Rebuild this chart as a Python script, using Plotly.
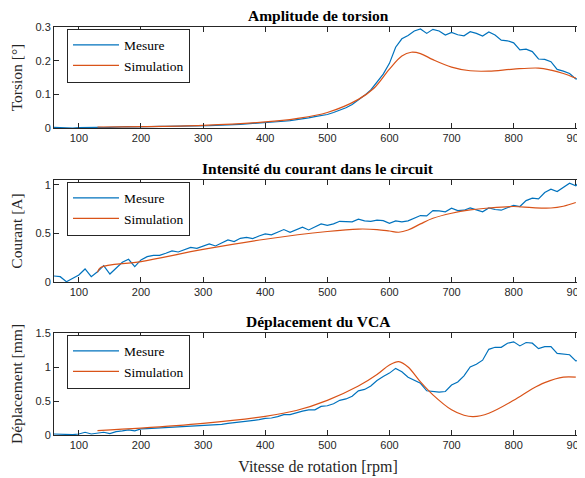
import plotly.graph_objects as go

rpm = list(range(60, 911, 10))

torsion_mesure = [0.002, 0.001, 0.0, 0.0, 0.001, 0.002, 0.001, 0.002, 0.001, 0.002,
                  0.003, 0.003, 0.004, 0.003, 0.004, 0.004, 0.004, 0.005, 0.005, 0.005,
                  0.005, 0.006, 0.006, 0.006, 0.007, 0.007, 0.008, 0.008, 0.009, 0.010,
                  0.011, 0.012, 0.013, 0.014, 0.015, 0.017, 0.018, 0.020, 0.022, 0.024,
                  0.027, 0.030, 0.034, 0.037, 0.040, 0.046, 0.052, 0.060, 0.070, 0.083,
                  0.097, 0.113, 0.135, 0.160, 0.192, 0.240, 0.265, 0.275, 0.288, 0.294,
                  0.281, 0.293, 0.288, 0.276, 0.284, 0.277, 0.274, 0.286, 0.281, 0.273,
                  0.285, 0.276, 0.261, 0.259, 0.253, 0.232, 0.234, 0.227, 0.205, 0.204,
                  0.197, 0.174, 0.169, 0.162, 0.146, 0.145]

torsion_sim_rpm = [130, 200, 300, 400, 450, 500, 550, 575, 600, 620, 635, 650, 670, 700,
                   730, 760, 800, 840, 860, 880, 900]
torsion_sim = [0.003, 0.004, 0.008, 0.018, 0.028, 0.046, 0.085, 0.118, 0.175, 0.214, 0.225,
               0.221, 0.203, 0.181, 0.170, 0.169, 0.175, 0.178, 0.172, 0.162, 0.148]

courant_mesure = [0.062, 0.055, 0.003, 0.038, 0.072, 0.134, 0.055, 0.106, 0.168, 0.082,
                  0.141, 0.203, 0.234, 0.158, 0.227, 0.261, 0.275, 0.275, 0.296, 0.320,
                  0.309, 0.337, 0.357, 0.347, 0.371, 0.392, 0.371, 0.405, 0.433, 0.416,
                  0.450, 0.460, 0.447, 0.474, 0.495, 0.485, 0.512, 0.540, 0.512, 0.536,
                  0.565, 0.536, 0.563, 0.598, 0.584, 0.598, 0.625, 0.619, 0.619, 0.646,
                  0.629, 0.625, 0.636, 0.632, 0.605, 0.629, 0.619, 0.629, 0.656, 0.684,
                  0.680, 0.735, 0.732, 0.722, 0.759, 0.735, 0.739, 0.763, 0.742, 0.722,
                  0.763, 0.746, 0.739, 0.763, 0.790, 0.777, 0.838, 0.863, 0.856, 0.921,
                  0.955, 0.931, 0.976, 1.017, 0.990, 1.060]

courant_sim_rpm = [130, 135, 200, 300, 400, 500, 550, 580, 600, 615, 630, 650, 670, 700,
                   730, 760, 800, 830, 860, 880, 900]
courant_sim = [0.10, 0.15, 0.21, 0.335, 0.44, 0.52, 0.545, 0.54, 0.525, 0.512, 0.535, 0.598,
               0.656, 0.708, 0.742, 0.762, 0.777, 0.765, 0.762, 0.78, 0.818]

depl_mesure = [0.015, 0.01, 0.0, 0.005, 0.015, 0.04, 0.015, 0.03, 0.04, 0.02,
               0.05, 0.06, 0.074, 0.06, 0.09, 0.095, 0.10, 0.10, 0.105, 0.11,
               0.11, 0.12, 0.125, 0.13, 0.13, 0.14, 0.14, 0.155, 0.17, 0.18,
               0.19, 0.205, 0.21, 0.225, 0.245, 0.25, 0.27, 0.30, 0.30, 0.33,
               0.35, 0.37, 0.37, 0.42, 0.43, 0.46, 0.51, 0.53, 0.57, 0.65,
               0.67, 0.72, 0.80, 0.86, 0.91, 0.98, 0.93, 0.85, 0.80, 0.76,
               0.65, 0.64, 0.63, 0.64, 0.735, 0.78, 0.87, 1.0, 1.04, 1.10,
               1.26, 1.29, 1.29, 1.35, 1.37, 1.31, 1.36, 1.35, 1.27, 1.30,
               1.30, 1.20, 1.19, 1.18, 1.09, 1.10]

depl_sim_rpm = [130, 200, 300, 400, 450, 500, 550, 580, 600, 615, 630, 650, 670, 700, 720,
                735, 760, 800, 830, 850, 880, 900]
depl_sim = [0.065, 0.10, 0.17, 0.275, 0.36, 0.51, 0.72, 0.89, 1.03, 1.08, 1.0, 0.78, 0.59,
            0.37, 0.29, 0.27, 0.32, 0.51, 0.68, 0.77, 0.85, 0.85]

titles = ["Amplitude de torsion", "Intensité du courant dans le circuit", "Déplacement du VCA"]
ylabels = ["Torsion [°]", "Courant [A]", "Déplacement [mm]"]
yranges = [[0, 0.3], [0, 1.05], [0, 1.5]]
yticks = [[0, 0.1, 0.2, 0.3], [0, 0.5, 1], [0, 0.5, 1, 1.5]]
ytexts = [["0", "0.1", "0.2", "0.3"], ["0", "0.5", "1"], ["0", "0.5", "1", "1.5"]]
xticks = [100, 200, 300, 400, 500, 600, 700, 800, 900]

# page body has an 8px margin: work in screen pixels and shift
OFF = 8
W, H = 585 - OFF, 478 - OFF
rows_px = [(27, 128), (180, 282), (333, 435)]   # screen px (top, bottom)
left_px, right_px = 54, 582


def px_x(p):
    return (p - OFF) / W


def px_y(p):
    return 1 - (p - OFF) / H


BLUE = "#0072BD"
ORANGE = "#D95319"
AX = "#262626"
SERIF = "Liberation Serif, Times New Roman, serif"
SANS = "Liberation Sans, Arial, sans-serif"

fig = go.Figure()
series = [
    (torsion_mesure, torsion_sim_rpm, torsion_sim),
    (courant_mesure, courant_sim_rpm, courant_sim),
    (depl_mesure, depl_sim_rpm, depl_sim),
]
for i, (mes, srpm, sim) in enumerate(series):
    n = "" if i == 0 else str(i + 1)
    leg = "legend" if i == 0 else f"legend{i + 1}"
    fig.add_trace(go.Scatter(x=rpm, y=mes, mode="lines", name="Mesure",
                             line=dict(color=BLUE, width=1.2),
                             xaxis="x" + n, yaxis="y" + n, legend=leg))
    fig.add_trace(go.Scatter(x=srpm, y=sim, mode="lines", name="Simulation",
                             line=dict(color=ORANGE, width=1.2, shape="spline", smoothing=1.0),
                             xaxis="x" + n, yaxis="y" + n, legend=leg))

layout = dict(
    width=W, height=H,
    margin=dict(l=0, r=0, t=0, b=0),
    paper_bgcolor="white", plot_bgcolor="white",
    showlegend=True,
    annotations=[],
)
for i in range(3):
    n = "" if i == 0 else str(i + 1)
    top, bot = rows_px[i]
    axcommon = dict(showline=True, linecolor=AX, linewidth=1, mirror="allticks",
                    ticks="inside", ticklen=5, tickcolor=AX, tickwidth=1,
                    showgrid=False, zeroline=False, automargin=False,
                    ticklabeloverflow="allow",
                    tickfont=dict(family=SANS, size=11, color=AX))
    layout["xaxis" + n] = dict(axcommon, domain=[px_x(left_px), px_x(right_px)], range=[60, 910],
                               tickvals=xticks, anchor="y" + n)
    layout["yaxis" + n] = dict(axcommon, domain=[px_y(bot), px_y(top)], range=yranges[i],
                               tickvals=yticks[i], ticktext=ytexts[i], anchor="x" + n,
                               title=dict(text=ylabels[i], font=dict(family=SERIF, size=15.5, color=AX),
                                          standoff=15))
    leg = "legend" if i == 0 else f"legend{i + 1}"
    layout[leg] = dict(x=px_x(67), y=px_y(top + 1.5), xanchor="left", yanchor="top",
                       bgcolor="white", bordercolor=AX, borderwidth=1, itemwidth=46,
                       font=dict(family=SERIF, size=13.5, color="black"))
    layout["annotations"].append(dict(text="<b>" + titles[i] + "</b>", xref="paper", yref="paper",
                                      x=px_x((left_px + right_px) / 2), y=px_y(top - 1),
                                      xanchor="center", yanchor="bottom", showarrow=False,
                                      font=dict(family=SERIF, size=15.5, color="black")))
layout["xaxis3"]["title"] = dict(text="Vitesse de rotation [rpm]",
                                 font=dict(family=SERIF, size=16, color=AX), standoff=10)

fig.update_layout(**layout)
fig.write_html("out.html")
